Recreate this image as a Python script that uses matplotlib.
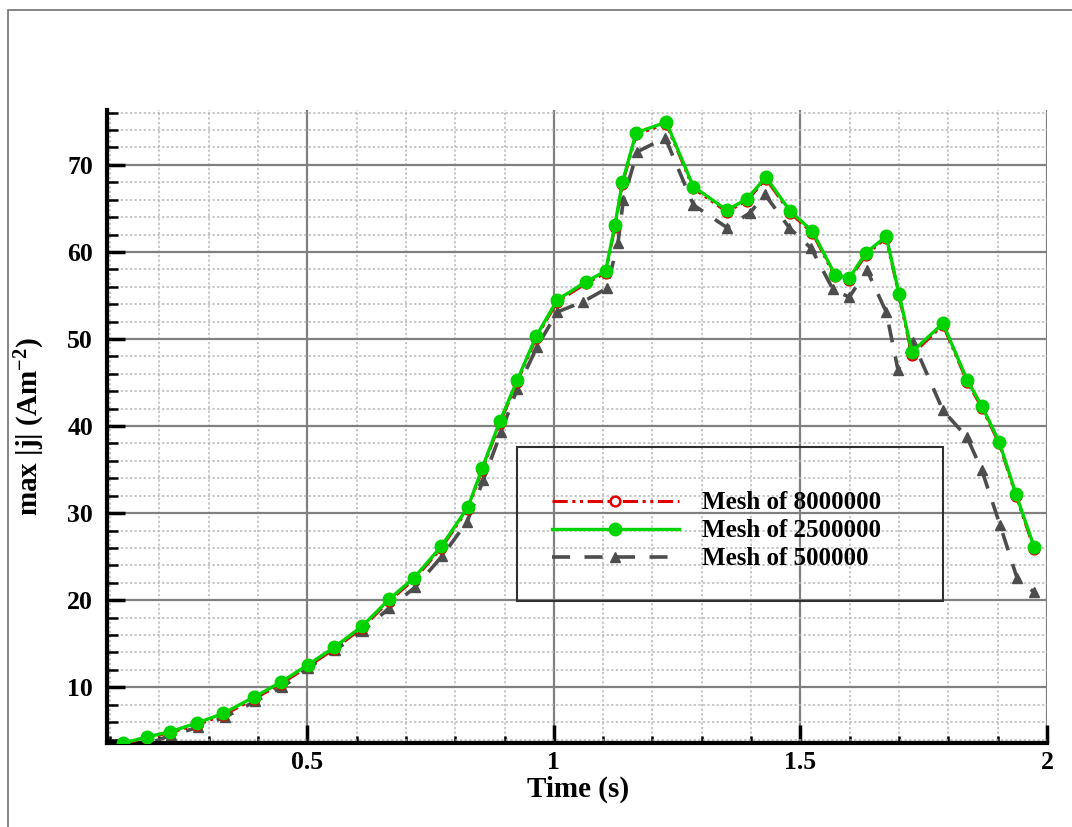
import matplotlib
matplotlib.use("Agg")
import matplotlib.pyplot as plt
from matplotlib.patches import Rectangle
from matplotlib.ticker import MultipleLocator

# ---- data ----
t_fine = [0.127, 0.176, 0.222, 0.277, 0.330, 0.393, 0.447, 0.502, 0.555, 0.611,
          0.666, 0.717, 0.772, 0.826, 0.855, 0.891, 0.926, 0.964, 1.007, 1.066,
          1.105, 1.124, 1.139, 1.167, 1.228, 1.283, 1.351, 1.392, 1.430, 1.479,
          1.524, 1.570, 1.599, 1.633, 1.674, 1.700, 1.726, 1.789, 1.838, 1.868,
          1.903, 1.937, 1.974]
v_8000000 = [3.5, 4.2, 4.8, 5.7, 6.8, 8.7, 10.4, 12.4, 14.4, 16.8,
             19.9, 22.4, 26.0, 30.5, 35.0, 40.4, 45.1, 50.1, 54.3, 56.4,
             57.6, 62.9, 67.8, 73.5, 74.7, 67.3, 64.6, 65.9, 68.4, 64.5,
             62.2, 57.2, 56.8, 59.7, 61.6, 55.0, 48.2, 51.6, 45.1, 42.1,
             38.0, 32.0, 25.9]
v_2500000 = [3.6, 4.3, 4.9, 5.9, 7.0, 8.9, 10.6, 12.6, 14.6, 17.0,
             20.1, 22.6, 26.2, 30.7, 35.2, 40.6, 45.3, 50.3, 54.5, 56.6,
             57.8, 63.1, 68.0, 73.7, 74.9, 67.5, 64.8, 66.1, 68.6, 64.7,
             62.4, 57.4, 57.0, 59.9, 61.8, 55.2, 48.5, 51.8, 45.3, 42.3,
             38.2, 32.2, 26.1]
t_coarse = [0.127, 0.176, 0.224, 0.279, 0.334, 0.395, 0.449, 0.502, 0.557, 0.614,
            0.666, 0.719, 0.774, 0.824, 0.857, 0.893, 0.926, 0.966, 1.007, 1.060,
            1.107, 1.130, 1.141, 1.169, 1.226, 1.283, 1.351, 1.398, 1.428, 1.477,
            1.522, 1.566, 1.599, 1.635, 1.674, 1.698, 1.728, 1.789, 1.838, 1.868,
            1.905, 1.939, 1.974]
v_500000 = [3.4, 3.5, 4.5, 5.4, 6.6, 8.4, 10.0, 12.2, 14.3, 16.5,
            19.1, 21.5, 25.1, 29.0, 33.8, 39.3, 44.3, 49.1, 53.1, 54.3,
            55.8, 61.0, 66.0, 71.5, 73.1, 65.4, 62.8, 64.5, 66.6, 62.8,
            60.4, 55.7, 54.8, 57.9, 53.1, 46.4, 49.7, 41.8, 38.7, 34.9,
            28.6, 22.6, 20.9]
labels = ["Mesh of 8000000", "Mesh of 2500000", "Mesh of 500000"]
x_major = [0.5, 1.0, 1.5, 2.0]
x_major_labels = ["0.5", "1", "1.5", "2"]
y_major = [10, 20, 30, 40, 50, 60, 70]

plt.rcParams['font.family'] = ['Liberation Serif', 'DejaVu Serif']
plt.rcParams['font.weight'] = 'bold'
plt.rcParams['mathtext.fontset'] = 'custom'
plt.rcParams['mathtext.rm'] = 'Liberation Serif:bold'
plt.rcParams['mathtext.it'] = 'Liberation Serif:bold:italic'
plt.rcParams['mathtext.bf'] = 'Liberation Serif:bold'

W, H = 1072, 827
fig = plt.figure(figsize=(W / 100, H / 100), dpi=100)
fig.patch.set_facecolor('white')
L, R, T, B = 107, 1047, 110, 743
ax = fig.add_axes([L / W, 1 - B / H, (R - L) / W, (B - T) / H])

# outer frame of the picture
fig.patches.append(Rectangle((8 / W, -0.05), 1.2, 1 - 10 / H + 0.05,
                             transform=fig.transFigure, fill=False,
                             edgecolor='#707070', linewidth=1.2))

ax.plot(t_fine, v_8000000, color='#e00000', lw=2.2,
        dashes=(5, 1.5, 1, 1.5, 1, 1.5), marker='o', ms=7,
        mfc='white', mec='#e00000', mew=1.8, label=labels[0], zorder=3)
ax.plot(t_fine, v_2500000, color='#00d400', lw=2.4, marker='o', ms=9,
        mfc='#00d400', mec='#00d400', label=labels[1], zorder=4)
ax.plot(t_coarse, v_500000, color='#4d4d4d', lw=2.6, dashes=(5, 4),
        marker='^', ms=7, mfc='#4d4d4d', mec='#4d4d4d', label=labels[2],
        zorder=2)

ax.set_xlim(0.094, 2.0)
ax.set_ylim(3.6, 76.3)
ax.set_xticks(x_major)
ax.set_xticklabels(x_major_labels)
ax.set_yticks(y_major)
ax.xaxis.set_minor_locator(MultipleLocator(0.1))
ax.yaxis.set_minor_locator(MultipleLocator(2))

ax.grid(which='major', color='#808080', lw=1.6, ls='-', zorder=0)
ax.grid(which='minor', color='#b8b8b8', lw=1.1, ls=(0, (1.5, 1.5)), zorder=0)
ax.set_axisbelow(True)

for s in ['top', 'right']:
    ax.spines[s].set_visible(False)
for s in ['left', 'bottom']:
    ax.spines[s].set_linewidth(3)
    ax.spines[s].set_color('black')

ax.tick_params(axis='both', which='major', direction='in', length=13,
               width=2.5, labelsize=18.5, color='black')
ax.tick_params(axis='y', which='minor', direction='in', length=8, width=1.8)
ax.tick_params(axis='x', which='minor', direction='in', length=5, width=1.8)
ax.tick_params(axis='y', which='major', pad=10)
ax.tick_params(axis='x', which='major', pad=6)
for lab in ax.get_xticklabels() + ax.get_yticklabels():
    lab.set_fontweight('bold')

ax.set_xlabel("Time (s)", fontsize=21, fontweight='bold')
ax.xaxis.set_label_coords(0.501, -0.052)
ax.set_ylabel("max |j| (Am$^{-2}$)", fontsize=21, fontweight='bold')
ax.yaxis.set_label_coords(-0.064, 0.5)

# legend box (transparent, grid visible through it)
ax.add_patch(Rectangle((0.436, 0.224), 0.453, 0.244, transform=ax.transAxes,
                       fill=False, edgecolor='#303030', lw=1.5, zorder=5))
leg = ax.legend(loc='center left', bbox_to_anchor=(0.473, 0.335),
                frameon=False, handlelength=5.1,
                handletextpad=0.9, labelspacing=0.2, borderpad=0,
                borderaxespad=0, prop={'weight': 'bold', 'size': 18})

fig.savefig("out.png", dpi=100)
